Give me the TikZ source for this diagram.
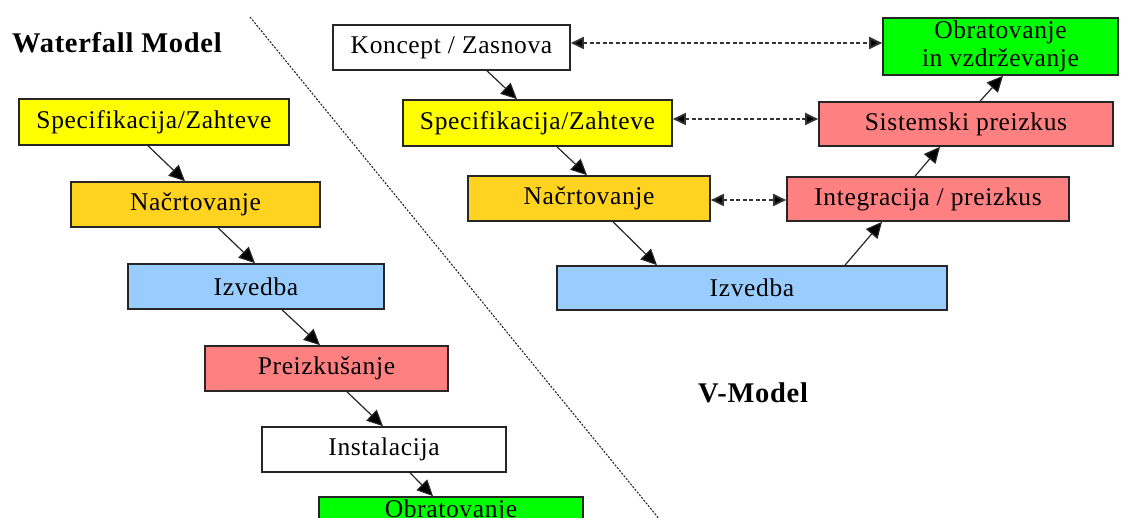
\documentclass[tikz,border=0pt]{standalone}
\usepackage{fontspec}
\setmainfont{Liberation Serif}[LetterSpace=2.5]
\usetikzlibrary{arrows.meta}
\definecolor{specyellow}{HTML}{FFFF00}
\definecolor{designgold}{HTML}{FFD320}
\definecolor{buildblue}{HTML}{99CCFF}
\definecolor{testred}{HTML}{FF8080}
\definecolor{rungreen}{HTML}{00FF00}
\begin{document}
\begin{tikzpicture}[x=1pt,y=-1pt,
  phase/.style={draw=black!85, line width=1.6pt, inner sep=0pt,
    font=\fontsize{25.5}{28}\selectfont, align=center},
  flow/.style={draw=black!85, line width=1.2pt,
    -{Triangle[length=16pt,width=15pt,fill=black]}},
  link/.style={draw=black!80, line width=1.8pt, dash pattern=on 4pt off 2.5pt,
    {Triangle[length=13pt,width=12pt,fill=black]}-{Triangle[length=13pt,width=12pt,fill=black]}},
  divider/.style={draw=black!85, line width=1.1pt, dash pattern=on 2pt off 1.5pt},
  heading/.style={inner sep=0pt, font=\bfseries\fontsize{28.5}{32}\selectfont}]

\useasboundingbox (0,0) rectangle (1129,518);
\clip (0,0) rectangle (1129,518);

% separator between the two models
\coordinate (divtop) at (250,17);
\coordinate (divbot) at (660,520);
\draw[divider] (divtop) -- (divbot);

% ---------- Waterfall model ----------
\node[heading, anchor=west] (wtitle) at (12,43) {Waterfall Model};

\node[phase, fill=specyellow, minimum width=270pt, minimum height=46pt] (wspec) at (154,122) {Specifikacija/Zahteve};
\node[phase, fill=designgold, minimum width=249pt, minimum height=45pt] (wnac) at (195.5,204.5) {Načrtovanje};
\node[phase, fill=buildblue, minimum width=256pt, minimum height=45pt] (wizv) at (256,286.5) {Izvedba};
\node[phase, fill=testred, minimum width=243pt, minimum height=45pt] (wpre) at (326.5,368.5) {Preizkušanje};
\node[phase, fill=white, minimum width=244pt, minimum height=45pt] (wins) at (384,449.5) {Instalacija};
\node[phase, fill=rungreen, minimum width=264pt, minimum height=57pt] (wobr) at (451,525.5) {Obratovanje\\in vzdrževanje};

\draw[flow] ([xshift=-6pt]wspec.south) -- ([xshift=-10.5pt]wnac.north);
\draw[flow] ([xshift=22.5pt]wnac.south) -- ([xshift=-1pt]wizv.north);
\draw[flow] ([xshift=26pt]wizv.south) -- ([xshift=-6.5pt]wpre.north);
\draw[flow] ([xshift=20.5pt]wpre.south) -- ([xshift=-1pt]wins.north);
\draw[flow] ([xshift=26pt]wins.south) -- ([xshift=-18pt]wobr.north);

% ---------- V-model ----------
\node[heading, anchor=west] (vtitle) at (698,393) {V-Model};

\node[phase, fill=white, minimum width=237pt, minimum height=45pt] (vkon) at (451.5,47.5) {Koncept / Zasnova};
\node[phase, fill=specyellow, minimum width=269pt, minimum height=46pt] (vspec) at (537.5,123) {Specifikacija/Zahteve};
\node[phase, fill=designgold, minimum width=242pt, minimum height=45pt] (vnac) at (589,198.5) {Načrtovanje};
\node[phase, fill=buildblue, minimum width=390pt, minimum height=44pt] (vizv) at (752,288) {Izvedba};
\node[phase, fill=testred, minimum width=282pt, minimum height=44pt] (vint) at (928,199) {Integracija / preizkus};
\node[phase, fill=testred, minimum width=294pt, minimum height=44pt] (vsis) at (966,124) {Sistemski preizkus};
\node[phase, fill=rungreen, minimum width=235pt, minimum height=57pt] (vobr) at (1000.5,46.5) {Obratovanje\\in vzdrževanje};

\draw[flow] ([xshift=35.5pt]vkon.south) -- ([xshift=-20.5pt]vspec.north);
\draw[flow] ([xshift=19.5pt]vspec.south) -- ([xshift=-2pt]vnac.north);
\draw[flow] ([xshift=24pt]vnac.south) -- ([xshift=-95pt]vizv.north);
\draw[flow] ([xshift=93pt]vizv.north) -- ([xshift=-46pt]vint.south);
\draw[flow] ([xshift=-13pt]vint.north) -- ([xshift=-26pt]vsis.south);
\draw[flow] ([xshift=14pt]vsis.north) -- ([xshift=2.5pt]vobr.south);

% verification links between matching levels
\draw[link] ([yshift=4.5pt]vkon.east) -- ([yshift=3.5pt]vobr.west);
\draw[link] ([yshift=4pt]vspec.east) -- ([yshift=5pt]vsis.west);
\draw[link] ([yshift=-1.5pt]vnac.east) -- ([yshift=-1pt]vint.west);
\end{tikzpicture}
\end{document}
